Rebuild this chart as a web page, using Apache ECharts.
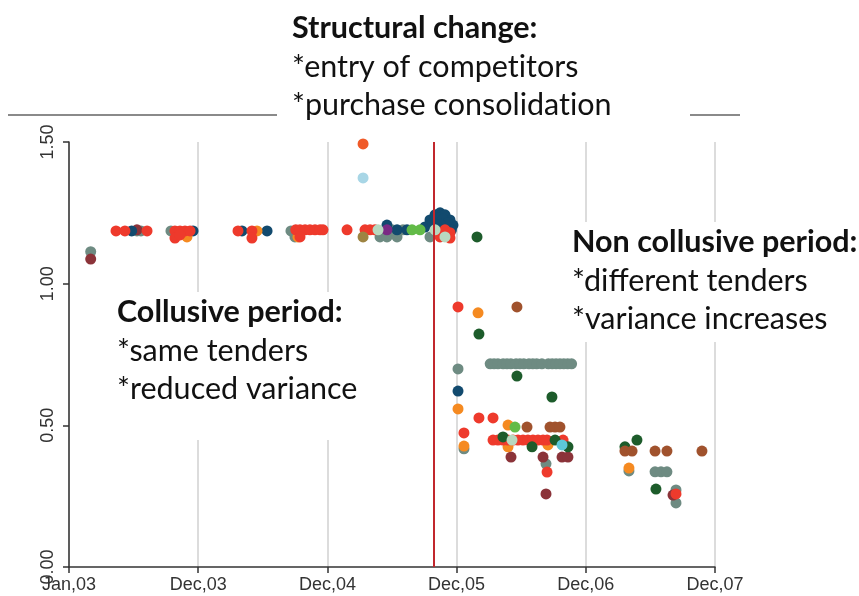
<!DOCTYPE html>
<html>
<head>
<meta charset="utf-8">
<script src="https://cdn.jsdelivr.net/npm/echarts@6/dist/echarts.min.js"></script>
<style>
  html, body { margin: 0; padding: 0; background: #fff; }
  #chart { width: 859px; height: 596px; }
</style>
</head>
<body>
<div id="chart"></div>
<script>
// x is measured in tick steps from Jan,03 (0) to Dec,07 (5)
var tickLabels = ['Jan,03', 'Dec,03', 'Dec,04', 'Dec,05', 'Dec,06', 'Dec,07'];
var breakX = 2.82; // structural change

var red = [[0.364,1.186],[0.433,1.186],[0.604,1.186],[0.820,1.186],[0.859,1.186],[0.898,1.186],[0.937,1.186],
  [0.820,1.161],[0.859,1.172],[1.308,1.186],[1.416,1.186],[1.416,1.161],[1.755,1.19],[1.788,1.19],[1.827,1.19],
  [1.865,1.19],[1.904,1.19],[1.943,1.19],[1.966,1.19],[1.788,1.165],[2.152,1.19],[2.291,1.19],[2.330,1.19],
  [2.368,1.19],[2.910,1.19],[2.949,1.18],[2.872,1.165],[2.949,1.161],[3.011,0.918],[3.057,0.473],[3.173,0.526],
  [3.282,0.526],[3.282,0.448],[3.320,0.448],[3.359,0.448],[3.398,0.448],[3.437,0.448],[3.475,0.448],[3.514,0.448],
  [3.552,0.448],[3.591,0.448],[3.630,0.448],[3.669,0.448],[3.700,0.448],[3.824,0.448],[3.700,0.335],[4.698,0.258]];
var orangeRed = [[2.276,1.493]];
var darkBlue = [[0.485,1.186],[0.960,1.186],[1.339,1.186],[1.533,1.186],[2.461,1.207],[2.539,1.19],[2.616,1.19],
  [2.755,1.20],[2.794,1.225],[2.833,1.243],[2.872,1.25],[2.910,1.243],[2.949,1.225],[2.972,1.207],[2.833,1.207],
  [2.910,1.20],[2.856,1.232],[2.895,1.228],[2.930,1.215],[2.815,1.215],[2.960,1.19],[2.875,1.21],[3.011,0.621]];
var gray = [[0.168,1.113],[0.526,1.186],[0.557,1.186],[0.789,1.186],[1.718,1.186],[1.749,1.165],[2.407,1.165],
  [2.461,1.165],[2.539,1.165],[2.500,1.19],[2.585,1.19],[2.794,1.165],[3.011,0.699],[3.057,0.417],[3.692,0.364],
  [4.334,0.339],[4.536,0.336],[4.582,0.336],[4.628,0.336],[4.698,0.272],[4.698,0.226],
  [3.26,0.717],[3.29,0.717],[3.32,0.717],[3.36,0.717],[3.39,0.717],[3.42,0.717],[3.46,0.717],[3.49,0.717],
  [3.52,0.717],[3.56,0.717],[3.59,0.717],[3.62,0.717],[3.66,0.717],[3.71,0.717],[3.74,0.717],[3.77,0.717],
  [3.80,0.717],[3.83,0.717],[3.86,0.717],[3.89,0.717]];
var orange = [[0.913,1.165],[1.455,1.186],[1.772,1.165],[3.011,0.558],[3.166,0.897],[3.057,0.427],[3.398,0.501],
  [3.398,0.424],[3.707,0.431],[4.334,0.349]];
var darkGreen = [[3.158,1.165],[3.173,0.822],[3.467,0.674],[3.738,0.600],[3.359,0.459],[3.584,0.424],[3.762,0.448],
  [3.862,0.424],[4.303,0.424],[4.396,0.448],[4.543,0.275]];
var brown = [[3.467,0.918],[3.545,0.494],[3.723,0.494],[3.762,0.494],[3.800,0.494],[4.303,0.409],[4.358,0.409],
  [4.536,0.409],[4.628,0.409],[4.899,0.409]];
var maroon = [[0.168,1.087],[0.526,1.19],[3.421,0.388],[3.669,0.388],[3.816,0.388],[3.862,0.388],[3.692,0.258],[4.675,0.254]];
var lightBlue = [[2.276,1.373]];
var purple = [[2.461,1.19]];
var lightGreen = [[2.655,1.19],[2.717,1.19],[3.452,0.494]];
var paleGreen = [[2.392,1.19],[2.833,1.19],[2.910,1.165],[3.429,0.448]];
var tan = [[2.276,1.165]];
var cyan = [[3.816,0.431]];

var groups = [
  [gray, '#6e8b82'], [maroon, '#8b3339'], [darkBlue, '#124a6e'], [orange, '#f58a21'], [red, '#ee3a2c'],
  [orangeRed, '#f05a28'], [lightBlue, '#a8d6e6'], [tan, '#9e8442'], [purple, '#7a2a84'], [lightGreen, '#62bb47'],
  [darkGreen, '#1d5c2b'], [brown, '#a0522d'], [cyan, '#5dc8d8'], [paleGreen, '#b8d8bf']
];

var txtFont = 'Lato, "Open Sans", sans-serif';

function note(x, y, w, h, tx, lines) {
  var kids = [{ type: 'rect', z: 100, shape: { x: 0, y: 0, width: w, height: h }, style: { fill: '#fff' } }];
  lines.forEach(function (t, i) {
    kids.push({
      type: 'text', z: 101, x: tx, y: 5 + i * 38.5,
      style: { text: t, fill: '#111', font: (i == 0 ? 'bold ' : '') + '30.5px ' + txtFont, textVerticalAlign: 'top' }
    });
  });
  return { type: 'group', x: x, y: y, z: 100, children: kids };
}

var series = groups.map(function (g) {
  return {
    type: 'scatter',
    data: g[0],
    symbolSize: 11,
    itemStyle: { color: g[1], opacity: 1 },
    silent: true
  };
});
series[0].markLine = {
  silent: true,
  symbol: ['none', 'none'],
  label: { show: false },
  lineStyle: { color: '#c1272d', width: 2, type: 'solid' },
  data: [{ xAxis: breakX }]
};

var myChart = echarts.init(document.getElementById('chart'));
var option = {
  animation: false,
  backgroundColor: '#fff',
  grid: { left: 69, right: 144, top: 142, bottom: 29 },
  xAxis: {
    type: 'value', min: 0, max: 5, interval: 1,
    axisLine: { lineStyle: { color: '#333', width: 1.5 } },
    axisTick: { show: true, length: 6, lineStyle: { color: '#333', width: 1.5 } },
    axisLabel: {
      color: '#333', fontSize: 18, fontFamily: 'Liberation Sans, Arial', margin: 9,
      formatter: function (v) { return tickLabels[Math.round(v)]; }
    },
    splitLine: { show: true, lineStyle: { color: '#dcdcdc', width: 2 } }
  },
  yAxis: {
    type: 'value', min: 0, max: 1.5, interval: 0.5,
    axisLine: { show: true, lineStyle: { color: '#333', width: 1.5 } },
    axisTick: { show: true, length: 6, lineStyle: { color: '#333', width: 1.5 } },
    axisLabel: {
      color: '#333', fontSize: 18, fontFamily: 'Liberation Sans, Arial', rotate: 90, margin: 12,
      formatter: function (v) { return v.toFixed(2); }
    },
    splitLine: { show: false }
  },
  graphic: [
    { type: 'line', z: 90, shape: { x1: 8, y1: 115, x2: 740, y2: 115 }, style: { stroke: '#8a8a8a', lineWidth: 2 } },
    note(277, 8, 413, 120, 15, ['Structural change:', '*entry of compet\u200citors', '*purchase consolidat\u200cion']),
    note(566, 222, 293, 120, 6, ['Non collusive period:', '*different tenders', '*variance increases']),
    note(111, 292, 255, 148, 6, ['Collusive period:', '*same tenders', '*reduced variance'])
  ],
  series: series
};
myChart.setOption(option);
</script>
</body>
</html>
